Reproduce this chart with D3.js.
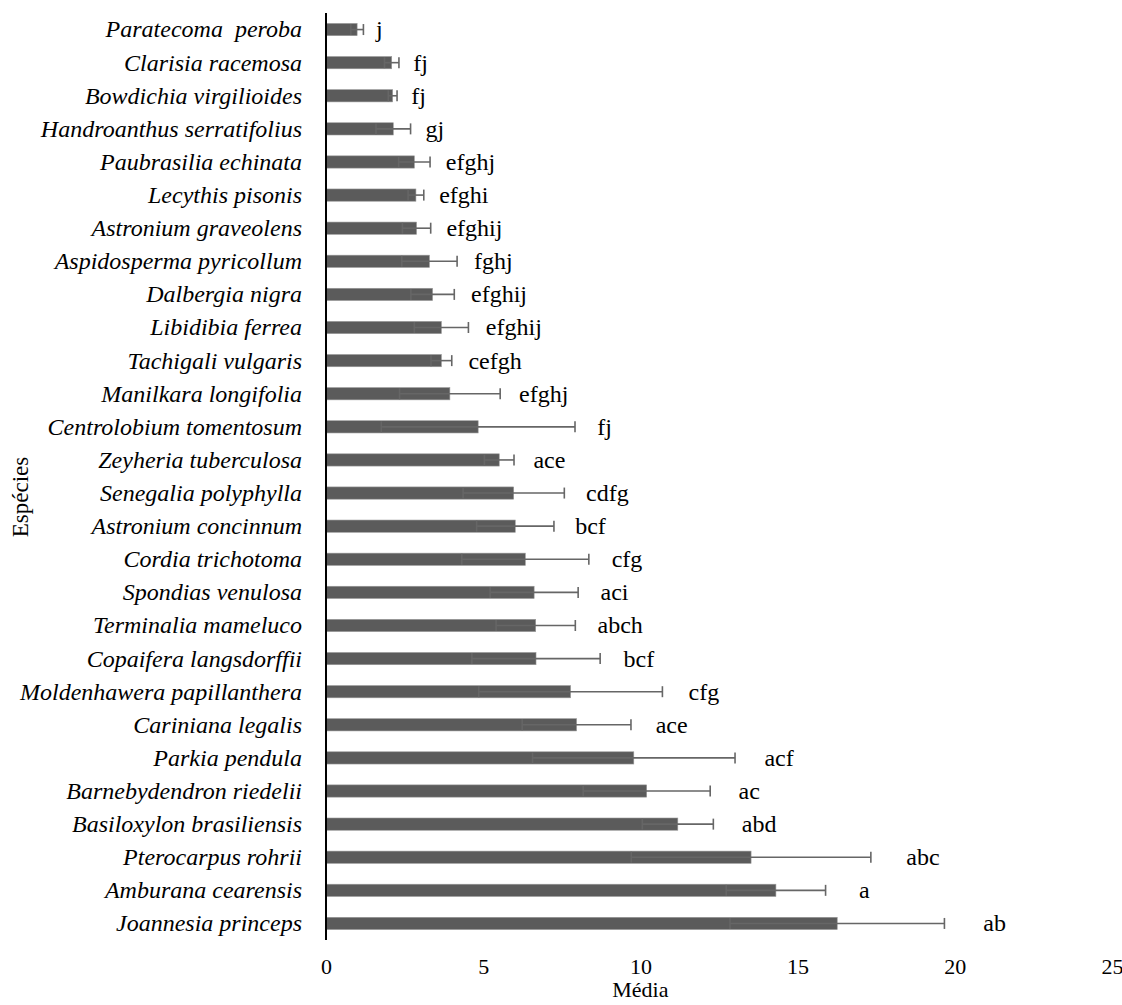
<!DOCTYPE html>
<html>
<head>
<meta charset="utf-8">
<script src="https://cdn.jsdelivr.net/npm/d3@7"></script>
<style>
  body { margin: 0; background: #fff; }
  text { font-family: "Liberation Serif", "Times New Roman", serif; fill: #000; }
</style>
</head>
<body>
<div id="chart"></div>
<script>
// species, top to bottom
const species = [
  "Paratecoma  peroba", "Clarisia racemosa", "Bowdichia virgilioides", "Handroanthus serratifolius",
  "Paubrasilia echinata", "Lecythis pisonis", "Astronium graveolens", "Aspidosperma pyricollum",
  "Dalbergia nigra", "Libidibia ferrea", "Tachigali vulgaris", "Manilkara longifolia",
  "Centrolobium tomentosum", "Zeyheria tuberculosa", "Senegalia polyphylla", "Astronium concinnum",
  "Cordia trichotoma", "Spondias venulosa", "Terminalia mameluco", "Copaifera langsdorffii",
  "Moldenhawera papillanthera", "Cariniana legalis", "Parkia pendula", "Barnebydendron riedelii",
  "Basiloxylon brasiliensis", "Pterocarpus rohrii", "Amburana cearensis", "Joannesia princeps"
];
const means = [
  0.99, 2.09, 2.12, 2.14, 2.81, 2.86, 2.88, 3.29, 3.39, 3.67, 3.67, 3.94, 4.84, 5.51,
  5.97, 6.02, 6.34, 6.62, 6.67, 6.68, 7.78, 7.97, 9.79, 10.2, 11.19, 13.52, 14.31, 16.26
];
const errors = [
  0.2, 0.23, 0.14, 0.55, 0.5, 0.25, 0.45, 0.88, 0.69, 0.86, 0.33, 1.6, 3.08, 0.47,
  1.61, 1.23, 2.02, 1.4, 1.26, 2.04, 2.92, 1.73, 3.22, 2.02, 1.13, 3.81, 1.58, 3.41
];
const groups = [
  "j", "fj", "fj", "gj", "efghj", "efghi", "efghij", "fghj", "efghij", "efghij", "cefgh", "efghj",
  "fj", "ace", "cdfg", "bcf", "cfg", "aci", "abch", "bcf", "cfg", "ace", "acf", "ac",
  "abd", "abc", "a", "ab"
];
const xTicks = [0, 5, 10, 15, 20, 25];

const data = species.map((s, i) => ({ name: s, mean: means[i], err: errors[i], group: groups[i] }));

const width = 1122, height = 1005;

const svg = d3.select("#chart")
    .append("svg")
    .attr("width", width)
    .attr("height", height);

const x = d3.scaleLinear().domain([0, 25]).range([326, 1112]);
const y = d3.scaleBand()
    .domain(species)
    .range([13, 940])
    .paddingInner(0.63)
    .paddingOuter(0.315);

// bars
svg.append("g")
    .selectAll("rect")
    .data(data)
    .join("rect")
    .attr("x", x(0))
    .attr("y", d => y(d.name))
    .attr("width", d => x(d.mean) - x(0))
    .attr("height", y.bandwidth())
    .attr("fill", "#5b5b5b")
    .attr("stroke", "#999")
    .attr("stroke-width", 0.6);

// error bars (both sides, lower one sits inside the bar)
const eb = svg.append("g")
    .attr("stroke", "#666")
    .attr("stroke-width", 1.6);

data.forEach(d => {
    const cy = y(d.name) + y.bandwidth() / 2;
    const lo = x(d.mean - d.err), hi = x(d.mean + d.err);
    eb.append("line").attr("x1", lo).attr("x2", hi).attr("y1", cy).attr("y2", cy);
    eb.append("line").attr("x1", lo).attr("x2", lo).attr("y1", cy - 5.5).attr("y2", cy + 5.5);
    eb.append("line").attr("x1", hi).attr("x2", hi).attr("y1", cy - 5.5).attr("y2", cy + 5.5);
});

// significance letters
svg.append("g")
    .selectAll("text")
    .data(data)
    .join("text")
    .attr("x", d => {
        const cap = x(d.mean + d.err);
        return cap + 11 + 0.045 * (cap - x(0));
    })
    .attr("y", d => y(d.name) + y.bandwidth() / 2)
    .attr("dy", "0.33em")
    .style("font-size", "24px")
    .text(d => d.group);

// species labels
svg.append("g")
    .selectAll("text")
    .data(data)
    .join("text")
    .attr("x", 302)
    .attr("y", d => y(d.name) + y.bandwidth() / 2)
    .attr("dy", "0.33em")
    .attr("text-anchor", "end")
    .style("font-size", "24px")
    .style("font-style", "italic")
    .style("white-space", "pre")
    .text(d => d.name);

// vertical axis line
svg.append("line")
    .attr("x1", x(0)).attr("x2", x(0))
    .attr("y1", 13).attr("y2", 940)
    .attr("stroke", "#000")
    .attr("stroke-width", 2);

// x axis tick labels
const xAxis = svg.append("g")
    .attr("transform", "translate(0, 958)")
    .attr("font-family", "Liberation Serif")
    .call(d3.axisBottom(x).tickValues(xTicks).tickSize(0).tickPadding(0));
xAxis.select(".domain").remove();
xAxis.selectAll("text")
    .attr("dy", "0.71em")
    .style("font-size", "22px")
    .attr("fill", "#000");

// axis titles
svg.append("text")
    .attr("x", x(10))
    .attr("y", 997)
    .attr("text-anchor", "middle")
    .style("font-size", "22px")
    .text("Média");

svg.append("text")
    .attr("transform", "translate(28, 497) rotate(-90)")
    .attr("text-anchor", "middle")
    .style("font-size", "23px")
    .text("Espécies");
</script>
</body>
</html>
